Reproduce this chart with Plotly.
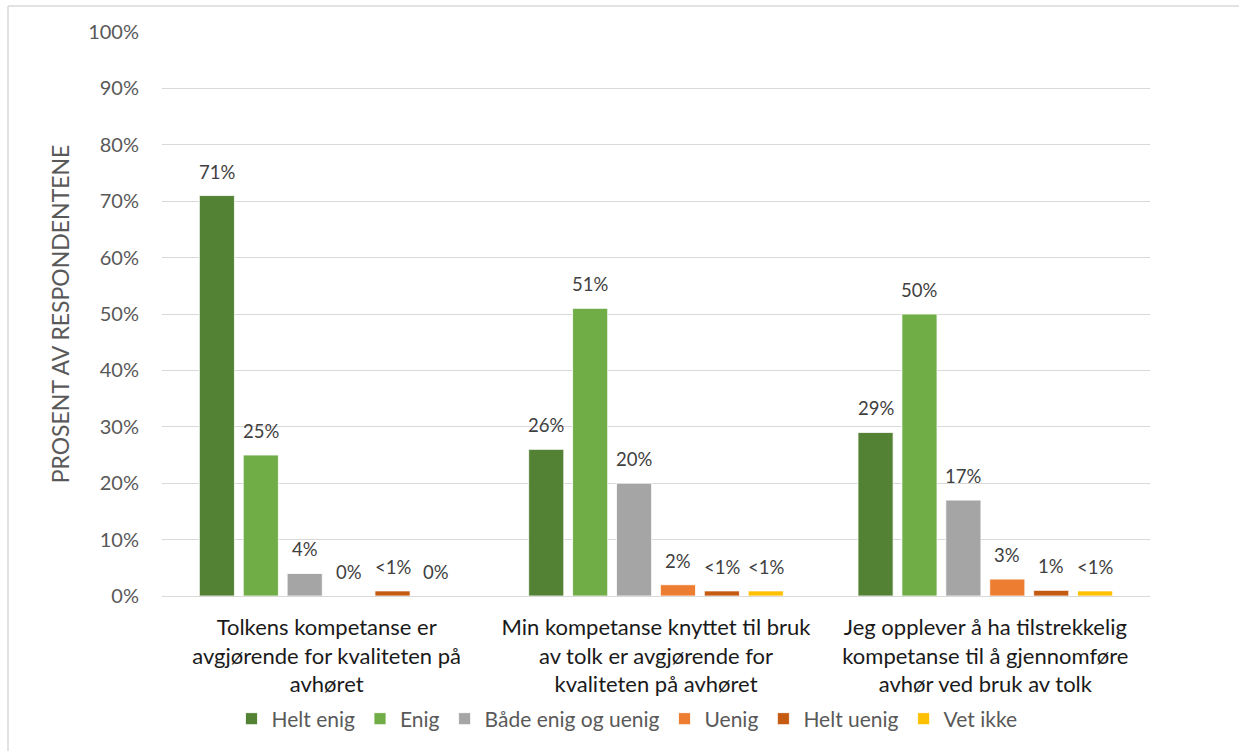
import plotly.graph_objects as go

categories = [
    "Tolkens kompetanse er<br>avgjørende for kvaliteten på<br>avhøret",
    "Min kompetanse knyttet til bruk<br>av tolk er avgjørende for<br>kvaliteten på avhøret",
    "Jeg opplever å ha tilstrekkelig<br>kompetanse til å gjennomføre<br>avhør ved bruk av tolk",
]
series_names = ["Helt enig", "Enig", "Både enig og uenig", "Uenig", "Helt uenig", "Vet ikke"]
helt_enig = [71, 26, 29]
enig = [25, 51, 50]
baade = [4, 20, 17]
uenig = [0, 2, 3]
helt_uenig = [0.9, 0.9, 1]
vet_ikke = [0, 0.9, 0.9]
labels = [
    ["71%", "26%", "29%"],
    ["25%", "51%", "50%"],
    ["4%", "20%", "17%"],
    ["0%", "2%", "3%"],
    ["<1%", "<1%", "1%"],
    ["0%", "<1%", "<1%"],
]
colors = ["#548235", "#70AD47", "#A5A5A5", "#ED7D31", "#C55A11", "#FFC000"]
values = [helt_enig, enig, baade, uenig, helt_uenig, vet_ikke]
y_ticks = list(range(0, 101, 10))

FONT = "Lato, 'Open Sans', sans-serif"

fig = go.Figure()
for name, vals, col in zip(series_names, values, colors):
    fig.add_trace(go.Bar(
        name=name, x=categories, y=vals,
        marker=dict(color=col, line=dict(color="white", width=0.8)),
    ))

# value labels above each bar
W, H = 1239, 751
ML, MR, MT, MB = 162, 89, 32, 155
plot_w = W - ML - MR
slot = plot_w / len(categories) * 0.8 / len(series_names)
annotations = []
for si, (vals, labs) in enumerate(zip(values, labels)):
    for ci, (v, lab) in enumerate(zip(vals, labs)):
        annotations.append(dict(
            x=categories[ci], y=v, xref="x", yref="y", text=lab,
            showarrow=False, xshift=(si - 2.5) * slot, yshift=24,
            yanchor="middle", font=dict(family=FONT, size=18.5, color="#404040"),
        ))

def px_x(p):
    return (p - ML) / plot_w

def px_y(p):
    return (H - MB - p) / (H - MT - MB)

shapes = [
    dict(type="line", xref="paper", yref="paper", x0=px_x(8), x1=px_x(1239), y0=px_y(6), y1=px_y(6),
         line=dict(color="#d9d9d9", width=1.5)),
    dict(type="line", xref="paper", yref="paper", x0=px_x(8), x1=px_x(8), y0=px_y(6), y1=px_y(751),
         line=dict(color="#d9d9d9", width=1.5)),
]

fig.update_layout(
    width=W, height=H,
    margin=dict(l=ML, r=MR, t=MT, b=MB),
    paper_bgcolor="white", plot_bgcolor="white",
    barmode="group", bargap=0.2, bargroupgap=0.2,
    font=dict(family=FONT, color="#595959"),
    annotations=annotations, shapes=shapes,
    legend=dict(
        orientation="h", x=px_x(627), xanchor="center", y=px_y(719), yanchor="middle",
        font=dict(family=FONT, size=21, color="#595959"),
        itemwidth=30, tracegroupgap=0,
    ),
    xaxis=dict(
        showgrid=False, showline=False, zeroline=False,
        tickfont=dict(family=FONT, size=22, color="#1a1a1a"),
        ticks="", ticklabelstandoff=16,
    ),
    yaxis=dict(
        range=[0, 100], tickvals=y_ticks, ticktext=[f"{t}%" for t in y_ticks],
        showgrid=True, gridcolor="#d9d9d9", gridwidth=1,
        zeroline=True, zerolinecolor="#d9d9d9", zerolinewidth=1,
        showline=False, ticks="",
        tickfont=dict(family=FONT, size=20, color="#595959"),
        ticklabelstandoff=22,
        title=dict(text="PROSENT AV RESPONDENTENE", standoff=12,
                   font=dict(family=FONT, size=23, color="#595959")),
    ),
)

fig.write_html("out.html")
